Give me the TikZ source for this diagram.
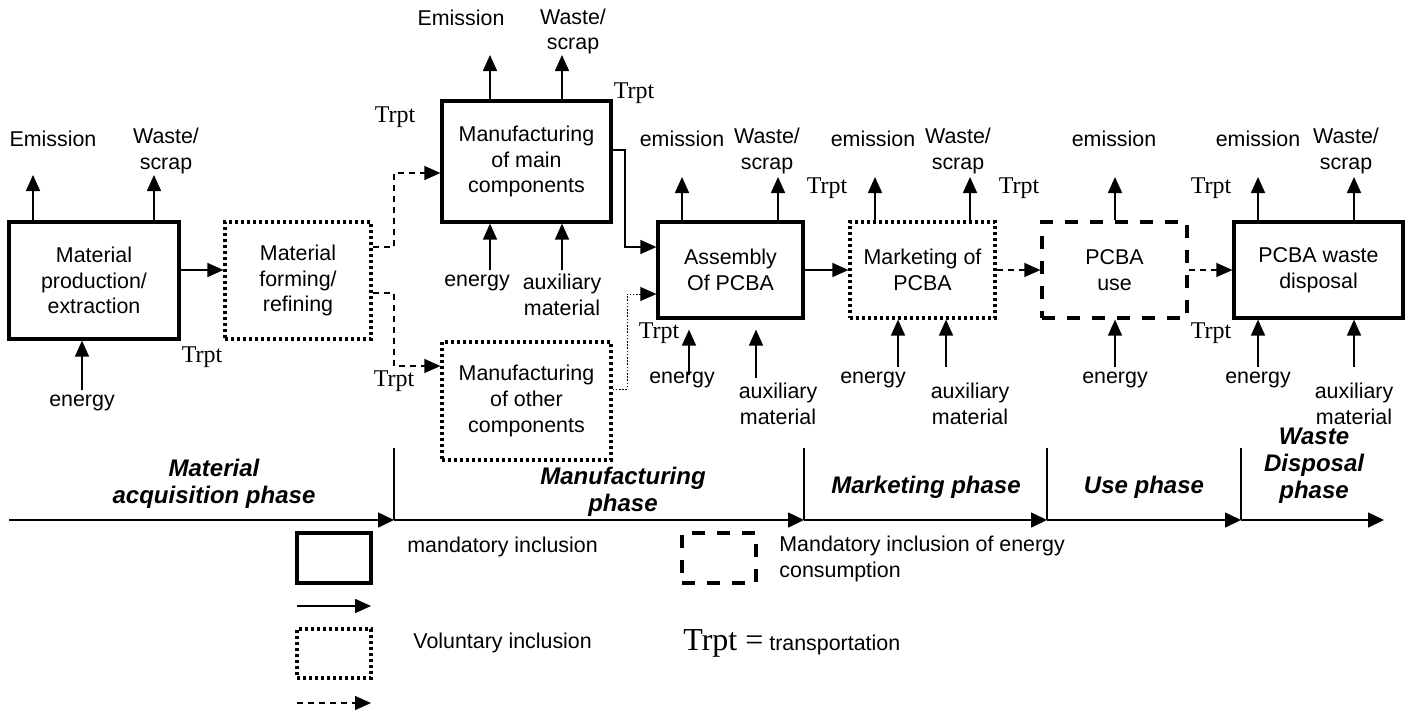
\documentclass[tikz,border=0pt]{standalone}
\usepackage{fontspec}
\setmainfont{Liberation Sans}
\newfontfamily\trptfont{Liberation Serif}
\usetikzlibrary{arrows.meta}

\begin{document}
\begin{tikzpicture}[x=0.5pt, y=-0.5pt, font=\fontsize{10.7}{12.8}\selectfont,
  flow/.style={line width=0.8pt, -{Triangle[length=8pt,width=7pt]}},
  dflow/.style={flow, line width=0.6pt, dash pattern=on 3pt off 2.5pt},
  tflow/.style={flow, line width=0.4pt, dash pattern=on 0.8pt off 0.8pt},
  axis/.style={line width=0.8pt, -{Triangle[length=8pt,width=7.5pt]}},
  manbox/.style={draw, line width=1.6pt, align=center, inner sep=2pt},
  volbox/.style={manbox, dash pattern=on 1.5pt off 1.5pt},
  enbox/.style={manbox, dash pattern=on 6.5pt off 6pt},
  trpt/.style={font=\trptfont\fontsize{12}{12}\selectfont, inner sep=0pt},
  phase/.style={font=\fontsize{12}{13.5}\selectfont\bfseries\itshape, align=center, inner sep=0pt}]
  \useasboundingbox (0,0) rectangle (1407,719);
  % ---- process boxes ----
  \node[manbox, minimum width=85pt, minimum height=58.5pt] (mpe) at (94,280.5) {Material\\production/\\extraction};
  \node[volbox, minimum width=73pt, minimum height=58.5pt] (mfr) at (298,280.5) {Material\\forming/\\refining};
  \node[manbox, minimum width=84.5pt, minimum height=60.5pt] (mmc) at (526.5,161.5) {Manufacturing\\of main\\components};
  \node[volbox, minimum width=84.5pt, minimum height=59pt] (moc) at (526.5,401) {Manufacturing\\of other\\components};
  \node[manbox, minimum width=72.5pt, minimum height=48pt] (asm) at (730.5,270) {Assembly\\Of PCBA};
  \node[volbox, minimum width=72.5pt, minimum height=48pt] (mkt) at (922.5,270) {Marketing of\\PCBA};
  \node[enbox, minimum width=72.5pt, minimum height=48pt] (use) at (1114.5,270) {PCBA\\use};
  \node[manbox, minimum width=84.5pt, minimum height=48pt] (wdp) at (1318.5,270) {PCBA waste\\disposal};
  % ---- flows between the boxes ----
  \draw[flow] (mpe.east |- 0,270) -- (mfr.west |- 0,270);
  \draw[dflow] (mfr.east |- 0,247) -- (394,247) |- (mmc.west |- 0,173);
  \draw[dflow] (mfr.east |- 0,293) -- (394,293) |- (moc.west |- 0,366);
  \draw[flow] (mmc.east |- 0,150) -- (625,150) |- (asm.west |- 0,247);
  \draw[tflow] (moc.east |- 0,389) -- (627,389) |- (asm.west |- 0,294);
  \draw[flow] (asm.east) -- (mkt.west);
  \draw[dflow] (mkt.east) -- (use.west);
  \draw[dflow] (use.east) -- (wdp.west);
  % ---- outputs (up) and inputs (from below) ----
  \foreach \b/\x/\y in {mpe/33/175, mpe/154/175, mmc/490/55, mmc/562/55, asm/682/177, asm/778/177,
                        mkt/875/177, mkt/970/177, use/1115/177, wdp/1258/177, wdp/1354/177} {
    \draw[flow] (\x,0 |- \b.north) -- (\x,\y);
  }
  \foreach \b/\x/\y in {mpe/82/390, mmc/490/270, mmc/562/270, mkt/898/367, mkt/946/367,
                        use/1115/367, wdp/1258/367, wdp/1354/367} {
    \draw[flow] (\x,\y) -- (\x,0 |- \b.south);
  }
  \draw[flow] (689,375) -- ([yshift=-5pt]689,0 |- asm.south);
  \draw[flow] (756,378) -- ([yshift=-5pt]756,0 |- asm.south);
  % ---- labels ----
  \foreach \x/\y/\t [count=\i] in {53/139/Emission, 166/151/{Waste/\\scrap}, 82/403/energy,
                    461/18/Emission, 573/31.5/{Waste/\\scrap}, 477/283/energy, 562/295/{auxiliary\\material},
                    682/139/emission, 767/151/{Waste/\\scrap}, 682/380/energy, 778/404/{auxiliary\\material},
                    873/139/emission, 958/151/{Waste/\\scrap}, 873/380/energy, 970/404/{auxiliary\\material},
                    1114/139/emission, 1115/380/energy,
                    1258/139/emission, 1346/151/{Waste/\\scrap}, 1258/380/energy, 1354/404/{auxiliary\\material}} {
    \node[align=center, inner sep=0pt] (lab\i) at (\x,\y) {\t};
  }
  \foreach \x/\y [count=\i] in {395/117, 394/381, 202/357, 634/93, 827/188, 659/333, 1019/188, 1211/188, 1211/333} {
    \node[trpt] (trpt\i) at (\x,\y) {Trpt};
  }
  % ---- phase axis ----
  \foreach \x [count=\i] in {9,394,804,1047,1241,1384} { \coordinate (t\i) at (\x,520); }
  \foreach \a/\b in {1/2,2/3,3/4,4/5,5/6} { \draw[axis] (t\a) -- (t\b); }
  \foreach \i in {2,...,5} { \draw[line width=0.8pt] (t\i) -- ++(0,-72); }
  \node[phase] (ph1) at (214,484) {Material\\acquisition phase};
  \node[phase] (ph2) at (623,492) {Manufacturing\\phase};
  \node[phase] (ph3) at (926,487) {Marketing phase};
  \node[phase] (ph4) at (1144,487) {Use phase};
  \node[phase] (ph5) at (1314,466) {Waste\\Disposal\\phase};
  % ---- legend ----
  \node[manbox, minimum width=37pt, minimum height=25pt] (legman) at (334,558) {};
  \coordinate (la1) at (297,606); \coordinate (la2) at (371,606);
  \draw[flow] (la1) -- (la2);
  \node[volbox, minimum width=37pt, minimum height=24.5pt] (legvol) at (334,653.5) {};
  \coordinate (lb1) at (297,703); \coordinate (lb2) at (371,703);
  \draw[dflow] (lb1) -- (lb2);
  \node[enbox, minimum width=37pt, minimum height=25pt] (legen) at (719,558) {};
  \node[anchor=west, inner sep=0pt] (txman) at (407,547) {mandatory inclusion};
  \node[anchor=west, inner sep=0pt] (txvol) at (413,643) {Voluntary inclusion};
  \node[anchor=west, align=left, inner sep=0pt] (txen) at (779,559) {Mandatory inclusion of energy\\consumption};
  \node[anchor=west, inner sep=0pt] (txtr) at (683,643) {{\trptfont\fontsize{16}{16}\selectfont Trpt =} transportation};
\end{tikzpicture}
\end{document}
